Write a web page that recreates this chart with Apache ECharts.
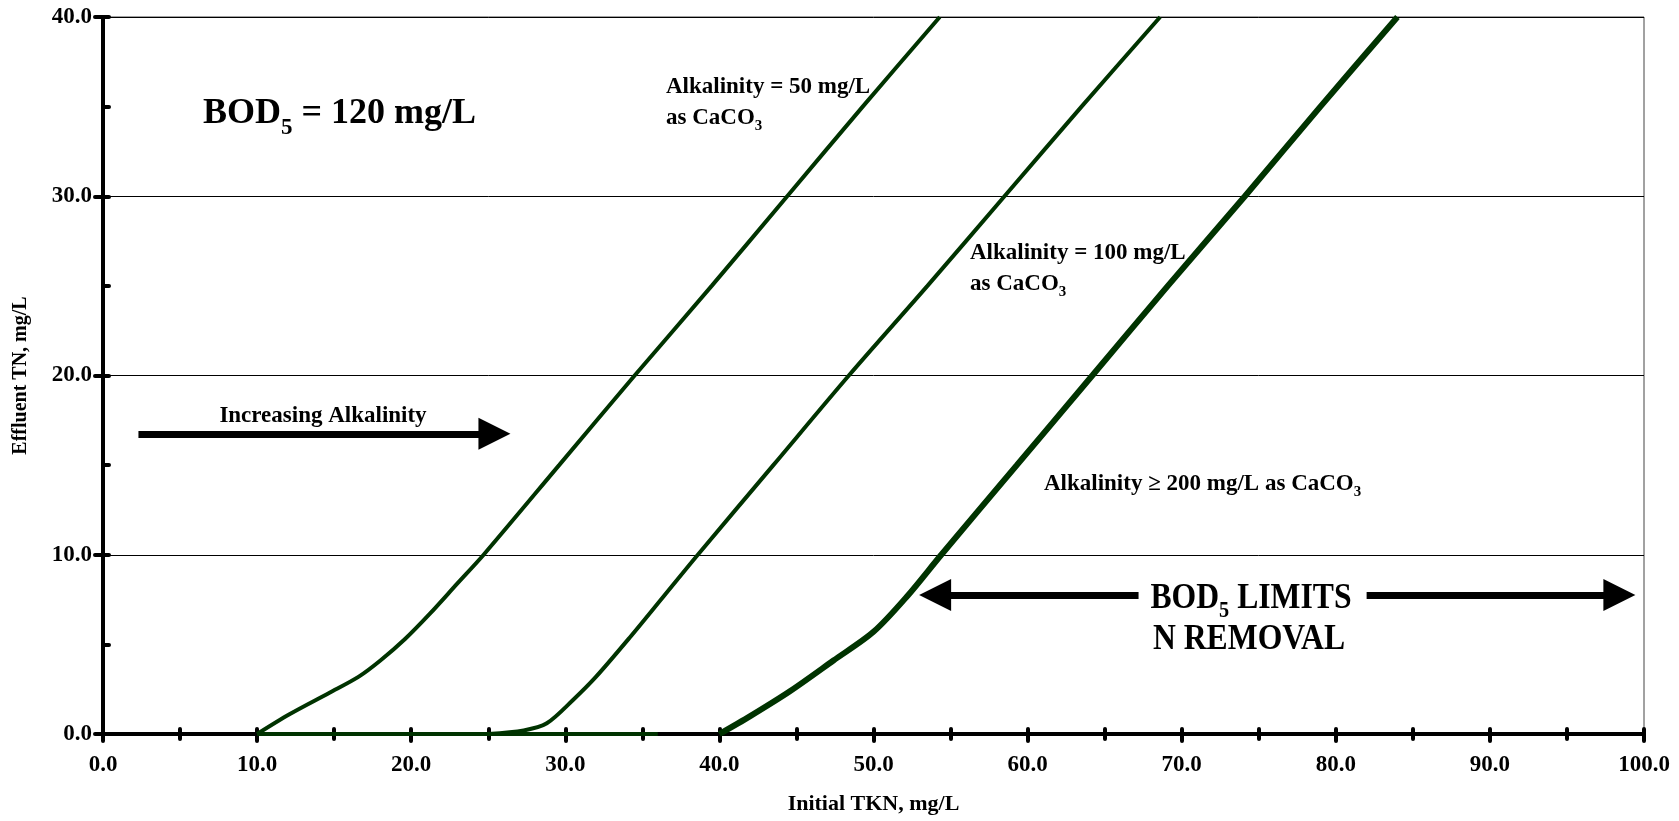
<!DOCTYPE html>
<html>
<head>
<meta charset="utf-8">
<script src="https://cdn.jsdelivr.net/npm/echarts@6/dist/echarts.min.js"></script>
<style>
html, body { margin: 0; padding: 0; background: #fff; }
#main { width: 1679px; height: 821px; }
</style>
</head>
<body>
<div id="main"></div>
<script>
// Initial TKN (x) vs effluent TN (y)
var alk50X = [10, 12.1, 14.7, 16.6, 18.0, 19.6, 21.2, 23.0, 24.7, 29.6, 34.5, 39.5, 44.4, 49.3, 54.3];
var alk50Y = [0, 1.1, 2.3, 3.2, 4.1, 5.3, 6.7, 8.4, 10, 15, 20, 25, 30, 35, 40];
var alk100X = [25, 27.3, 28.8, 30.5, 32.0, 34.2, 36.4, 38.6, 43.5, 48.4, 53.5, 58.5, 63.5, 68.6];
var alk100Y = [0, 0.2, 0.6, 1.9, 3.2, 5.4, 7.7, 10, 15, 20, 25, 30, 35, 40];
var flatX = [10, 36];
var flatY = [0, 0];
var alk200X = [40, 42.0, 44.6, 47.4, 50.0, 52.2, 54.4, 59.3, 64.2, 69.1, 74.1, 79.0, 84.0];
var alk200Y = [0, 1.0, 2.4, 4.1, 5.7, 7.7, 10, 15, 20, 25, 30, 35, 40];

// arrows, in data units
var incArrow = [[2.3, 16.75], [25.4, 16.75]];
var limitLeft = [[67.2, 7.75], [54.0, 7.75]];
var limitRight = [[82.0, 7.75], [98.4, 7.75]];

var FONT = '"Liberation Serif", "Times New Roman", serif';
var GREEN = '#003300';

function pairs(xs, ys) {
    var out = [];
    for (var i = 0; i < xs.length; i++) {
        out.push([xs[i], ys[i]]);
    }
    return out;
}

function arrowLine(p) {
    return [{coord: p[0]}, {coord: p[1]}];
}

function richStyle(size, lineH) {
    return {
        a: {fontFamily: FONT, fontWeight: 'bold', fontSize: size, fill: '#000', lineHeight: lineH},
        s: {fontFamily: FONT, fontWeight: 'bold', fontSize: Math.round(size * 0.65), fill: '#000',
            verticalAlign: 'bottom', lineHeight: lineH}
    };
}

function textItem(x, y, text, size, align, lineH, sx) {
    return {
        type: 'text', x: x, y: y, silent: true, scaleX: sx || 1,
        style: {
            text: text, textAlign: align || 'left', textVerticalAlign: 'middle',
            rich: richStyle(size, lineH || Math.round(size * 1.5))
        }
    };
}

var chart = echarts.init(document.getElementById('main'));

var tickStyle = {color: '#000', width: 4, cap: 'round'};
var labelFont = {fontFamily: FONT, fontWeight: 'bold', fontSize: 23, color: '#000'};

var xAxisBase = {
    type: 'value', min: 0, max: 100, interval: 10,
    axisLine: {lineStyle: {color: '#000', width: 4}},
    splitLine: {show: false}
};
var yAxisBase = {
    type: 'value', min: 0, max: 40, interval: 10,
    axisLine: {lineStyle: {color: '#000', width: 4}}
};

var option = {
    animation: false,
    grid: {left: 103, right: 35, top: 17, bottom: 87, show: true, borderColor: '#444', borderWidth: 1},
    xAxis: [
        Object.assign({}, xAxisBase, {
            name: 'Initial TKN, mg/L', nameLocation: 'middle', nameGap: 59,
            nameTextStyle: {fontFamily: FONT, fontWeight: 'bold', fontSize: 22, color: '#000'},
            axisTick: {show: true, length: 7, lineStyle: tickStyle},
            minorTick: {show: true, splitNumber: 2, length: 5, lineStyle: tickStyle},
            axisLabel: Object.assign({margin: 20, formatter: function (v) { return v.toFixed(1); }}, labelFont)
        }),
        Object.assign({}, xAxisBase, {
            position: 'bottom', offset: 0, interval: 5,
            axisTick: {show: true, inside: true, length: 5, lineStyle: tickStyle},
            axisLabel: {show: false}
        })
    ],
    yAxis: [
        Object.assign({}, yAxisBase, {
            name: 'Effluent TN, mg/L', nameLocation: 'middle', nameGap: 72,
            nameTextStyle: {fontFamily: FONT, fontWeight: 'bold', fontSize: 20, color: '#000'},
            axisTick: {show: true, length: 8, lineStyle: tickStyle},
            axisLabel: Object.assign({margin: 11, formatter: function (v) { return v.toFixed(1); }}, labelFont),
            splitLine: {show: true, lineStyle: {color: '#000', width: 1}}
        }),
        Object.assign({}, yAxisBase, {
            position: 'left', offset: 0, interval: 5,
            axisTick: {show: true, inside: true, length: 6, lineStyle: tickStyle},
            axisLabel: {show: false},
            splitLine: {show: false}
        })
    ],
    series: [
        {
            name: 'Alkalinity = 50 mg/L', type: 'line', data: pairs(alk50X, alk50Y),
            smooth: 0.3, showSymbol: false, silent: true,
            lineStyle: {color: GREEN, width: 4}
        },
        {
            name: 'Alkalinity = 100 mg/L', type: 'line', data: pairs(alk100X, alk100Y),
            smooth: 0.3, showSymbol: false, silent: true,
            lineStyle: {color: GREEN, width: 4}
        },
        {
            name: 'flat', type: 'line', data: pairs(flatX, flatY),
            showSymbol: false, silent: true,
            lineStyle: {color: GREEN, width: 4}
        },
        {
            name: 'Alkalinity >= 200 mg/L', type: 'line', data: pairs(alk200X, alk200Y),
            smooth: 0.3, showSymbol: false, silent: true,
            lineStyle: {color: GREEN, width: 6},
            markLine: {
                silent: true, animation: false,
                symbol: ['none', 'triangle'], symbolSize: [32, 32],
                label: {show: false},
                lineStyle: {color: '#000', width: 7, type: 'solid'},
                emphasis: {disabled: true},
                data: [arrowLine(incArrow), arrowLine(limitLeft), arrowLine(limitRight)]
            }
        }
    ],
    graphic: [
        textItem(203, 114, '{a|BOD}{s|5}{a| = 120 mg/L}', 36, 'left', 52),
        textItem(666, 103, '{a|Alkalinity = 50 mg/L}\n{a|as CaCO}{s|3}', 23, 'left', 31),
        textItem(970, 269, '{a|Alkalinity = 100 mg/L}\n{a|as CaCO}{s|3}', 23, 'left', 31),
        textItem(1044, 484, '{a|Alkalinity ≥ 200 mg/L as CaCO}{s|3}', 23, 'left', 31),
        textItem(323, 416, '{a|Increasing Alkalinity}', 23, 'center', 31),
        textItem(1251, 599, '{a|BOD}{s|5}{a| LIMITS}', 36, 'center', 48, 0.88),
        textItem(1249, 640, '{a|N REMOVAL}', 36, 'center', 48, 0.88)
    ]
};

chart.setOption(option);
</script>
</body>
</html>
